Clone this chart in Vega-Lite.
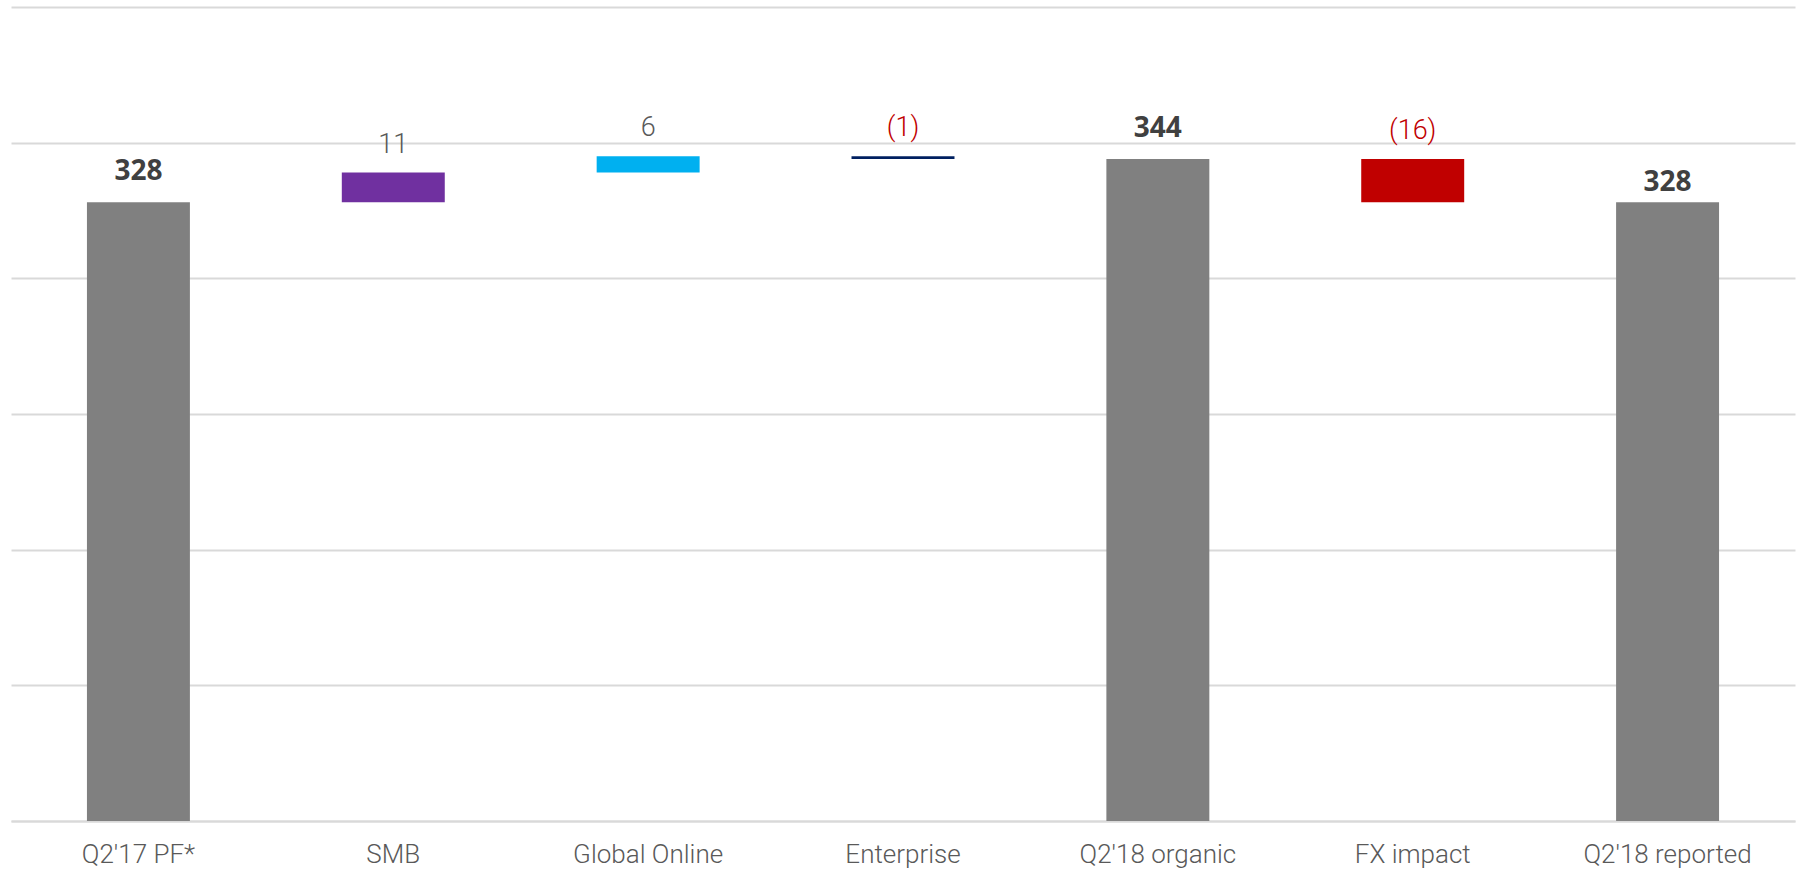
{
  "$schema": "https://vega.github.io/schema/vega-lite/v6.json",
  "width": 1784,
  "height": 814,
  "autosize": {"type": "none"},
  "padding": {"left": 11, "top": 7, "right": 8, "bottom": 48},
  "background": "white",
  "config": {"view": {"stroke": null}},
  "data": {
    "values": [
      {"step": "Q2'17 PF*", "start": 0, "end": 328, "label": "328", "kind": "total"},
      {"step": "SMB", "start": 328, "end": 339, "label": "11", "kind": "change"},
      {"step": "Global Online", "start": 339, "end": 345, "label": "6", "kind": "change"},
      {"step": "Enterprise", "start": 345, "end": 344, "label": "(1)", "kind": "change"},
      {"step": "Q2'18 organic", "start": 0, "end": 344, "label": "344", "kind": "total"},
      {"step": "FX impact", "start": 344, "end": 328, "label": "(16)", "kind": "change"},
      {"step": "Q2'18 reported", "start": 0, "end": 328, "label": "328", "kind": "final"}
    ]
  },
  "transform": [
    {"calculate": "max(datum.start, datum.end)", "as": "top"},
    {"calculate": "datum.end - datum.start", "as": "delta"}
  ],
  "encoding": {
    "x": {
      "field": "step",
      "type": "nominal",
      "sort": null,
      "scale": {"paddingInner": 0.596, "paddingOuter": 0.298},
      "axis": {
        "title": null,
        "labelAngle": 0,
        "labelFont": "Roboto, sans-serif",
        "labelFontWeight": 300,
        "labelFontSize": 26,
        "labelColor": "#595959",
        "labelPadding": 20,
        "ticks": false,
        "domain": true,
        "domainColor": "#d9d9d9",
        "domainWidth": 2,
        "grid": false
      }
    }
  },
  "layer": [
    {
      "mark": {"type": "bar", "clip": true},
      "encoding": {
        "y": {
          "field": "end",
          "type": "quantitative",
          "scale": {"domain": [100, 400], "zero": false, "nice": false},
          "axis": {
            "title": null,
            "labels": false,
            "ticks": false,
            "domain": false,
            "grid": true,
            "gridColor": "#d9d9d9",
            "gridWidth": 2,
            "values": [100, 150, 200, 250, 300, 350, 400]
          }
        },
        "y2": {"field": "start"},
        "color": {
          "field": "step",
          "type": "nominal",
          "legend": null,
          "scale": {
            "domain": ["Q2'17 PF*", "SMB", "Global Online", "Enterprise", "Q2'18 organic", "FX impact", "Q2'18 reported"],
            "range": ["#808080", "#7030A0", "#00B0F0", "#002060", "#808080", "#C00000", "#808080"]
          }
        }
      }
    },
    {
      "transform": [{"filter": "datum.kind == 'total'"}],
      "mark": {"type": "text", "font": "Open Sans, sans-serif", "fontWeight": "bold", "fontSize": 28, "color": "#404040", "baseline": "alphabetic", "dy": -22},
      "encoding": {
        "y": {"field": "top", "type": "quantitative"},
        "text": {"field": "label"}
      }
    },
    {
      "transform": [{"filter": "datum.kind == 'final'"}],
      "mark": {"type": "text", "font": "Open Sans, sans-serif", "fontWeight": "bold", "fontSize": 28, "color": "#404040", "baseline": "alphabetic", "dy": -11},
      "encoding": {
        "y": {"field": "top", "type": "quantitative"},
        "text": {"field": "label"}
      }
    },
    {
      "transform": [{"filter": "datum.kind == 'change'"}],
      "mark": {"type": "text", "font": "Roboto, sans-serif", "fontWeight": 300, "fontSize": 27, "baseline": "alphabetic", "dy": -20},
      "encoding": {
        "y": {"field": "top", "type": "quantitative"},
        "text": {"field": "label"},
        "color": {"condition": {"test": "datum.delta < 0", "value": "#C00000"}, "value": "#595959"}
      }
    }
  ]
}
